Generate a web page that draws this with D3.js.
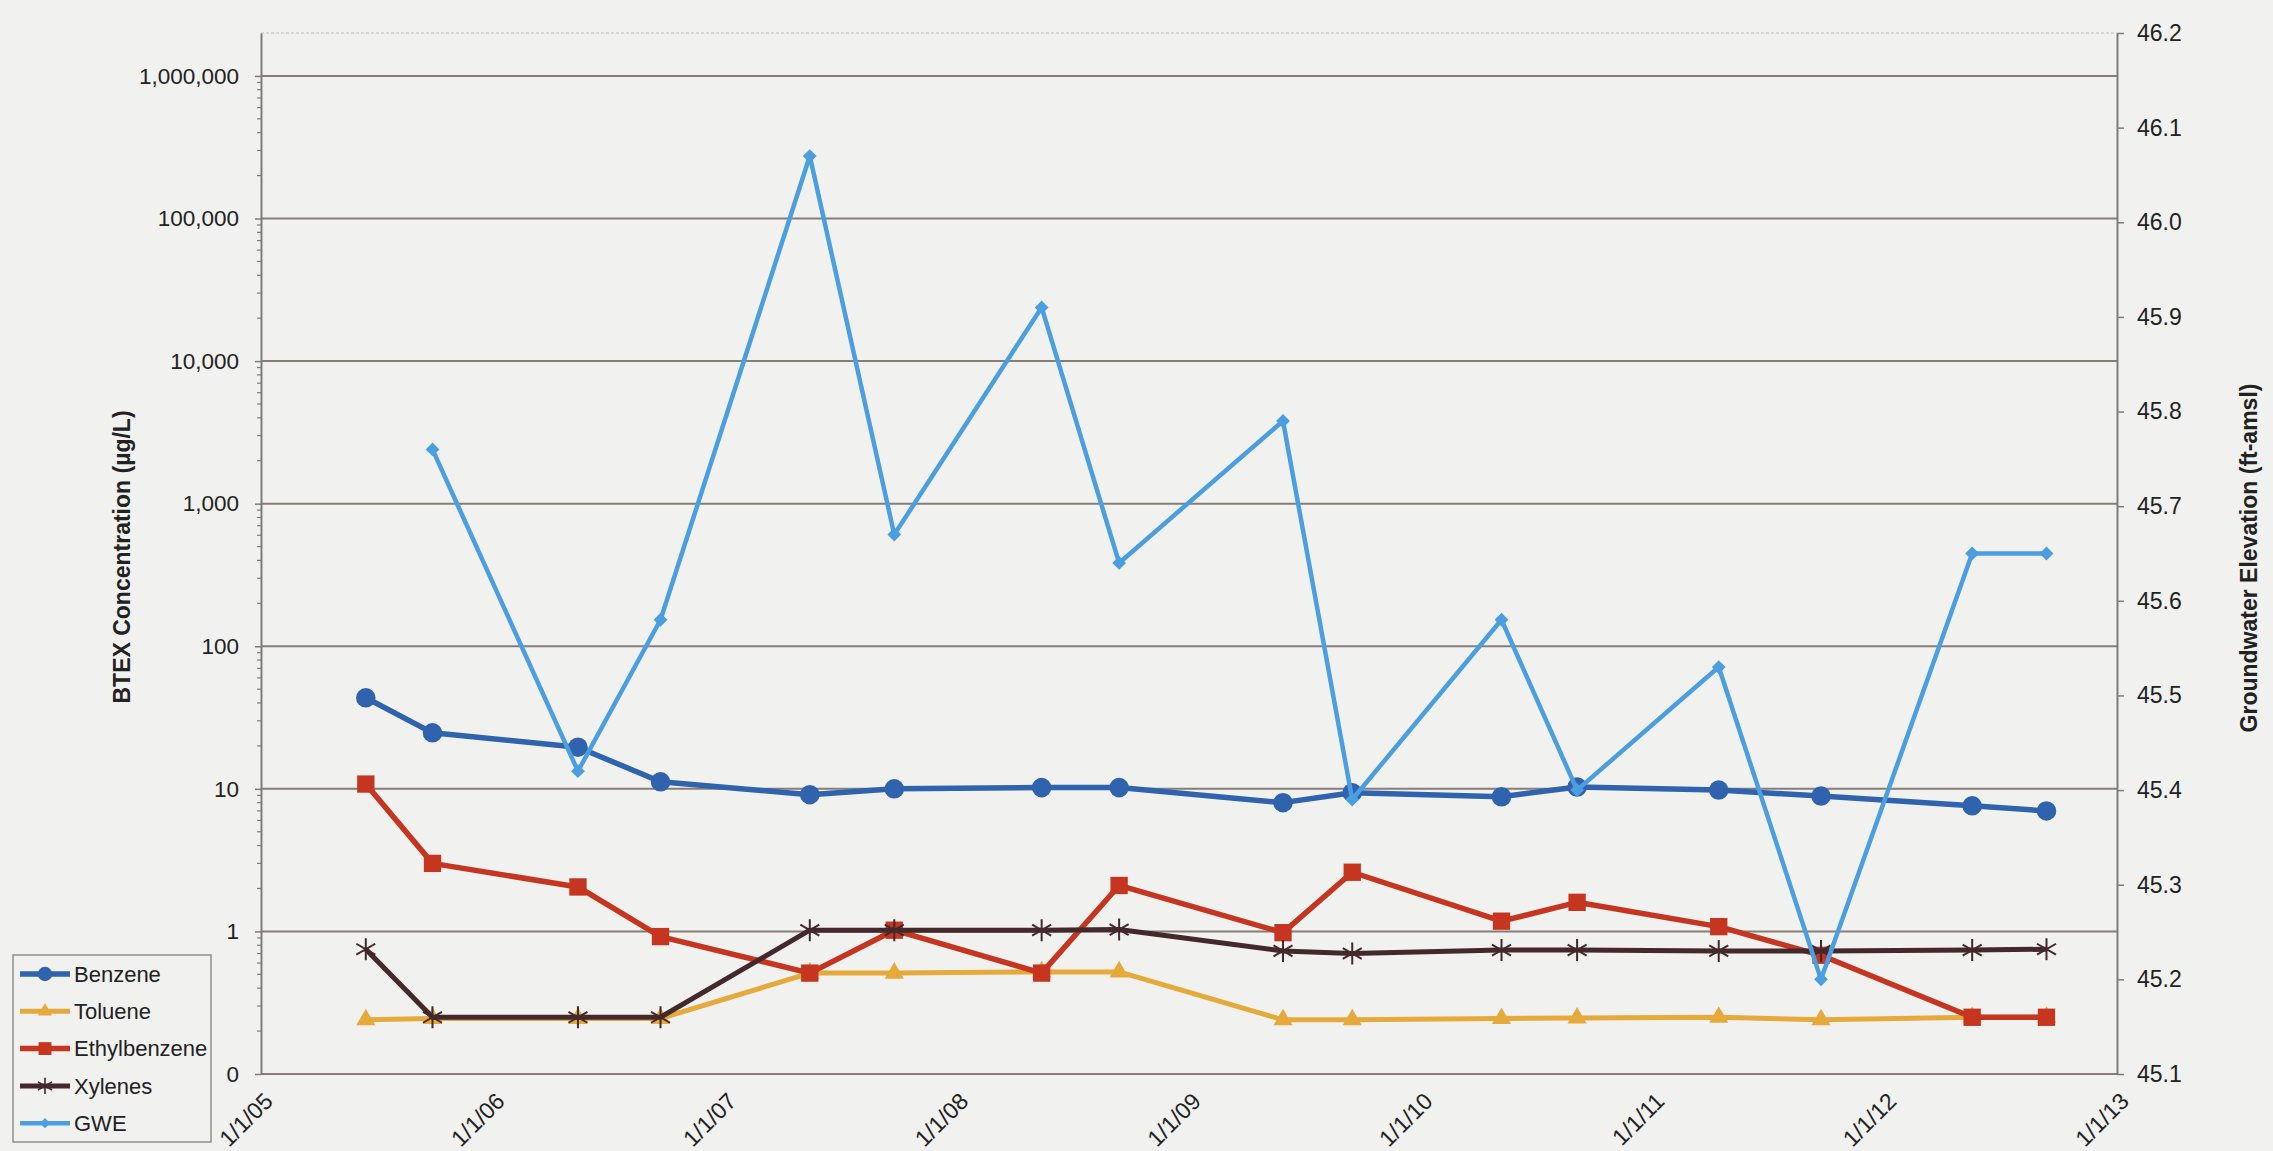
<!DOCTYPE html>
<html>
<head>
<meta charset="utf-8">
<script src="https://cdn.jsdelivr.net/npm/d3@7"></script>
<style>
  html, body { margin: 0; padding: 0; background: #f1f1f0; }
  svg { display: block; }
  text { font-family: "Liberation Sans", Arial, sans-serif; fill: #222; }
</style>
</head>
<body>
<div id="chart"></div>
<script>
// Sampling dates (one per monitoring event)
const sampleDates = [
  '2005-06-15', '2005-09-28', '2006-05-15', '2006-09-22',
  '2007-05-15', '2007-09-25', '2008-05-14', '2008-09-13',
  '2009-05-29', '2009-09-15', '2010-05-08', '2010-09-04',
  '2011-04-15', '2011-09-23', '2012-05-18', '2012-09-12'
];

// BTEX concentrations (ug/L), left log axis
const benzene      = [43.5, 24.7, 19.6, 11.2, 9.1, 10.0, 10.2, 10.2, 8.0, 9.4, 8.8, 10.3, 9.8, 8.9, 7.6, 7.0];
const toluene      = [0.24, 0.245, 0.245, 0.245, 0.51, 0.51, 0.52, 0.52, 0.24, 0.24, 0.245, 0.247, 0.25, 0.24, 0.25, 0.25];
const ethylbenzene = [10.8, 3.0, 2.05, 0.92, 0.51, 1.02, 0.51, 2.1, 0.98, 2.6, 1.18, 1.6, 1.08, 0.68, 0.25, 0.25];
const xylenes      = [0.75, 0.25, 0.25, 0.25, 1.02, 1.02, 1.02, 1.03, 0.73, 0.70, 0.74, 0.74, 0.73, 0.73, 0.74, 0.75];

// Groundwater elevation (ft-amsl), right axis; no reading at first event
const gwe = [null, 45.76, 45.42, 45.58, 46.07, 45.67, 45.91, 45.64, 45.79, 45.39, 45.58, 45.40, 45.53, 45.20, 45.65, 45.65];

// Axis ticks
const xTickDates  = ['2005-01-01', '2006-01-01', '2007-01-01', '2008-01-01', '2009-01-01', '2010-01-01', '2011-01-01', '2012-01-01', '2013-01-01'];
const xTickLabels = ['1/1/05', '1/1/06', '1/1/07', '1/1/08', '1/1/09', '1/1/10', '1/1/11', '1/1/12', '1/1/13'];
const leftTicks   = [0.1, 1, 10, 100, 1000, 10000, 100000, 1000000];
const rightTicks  = [45.1, 45.2, 45.3, 45.4, 45.5, 45.6, 45.7, 45.8, 45.9, 46.0, 46.1, 46.2];

const seriesNames = ['Benzene', 'Toluene', 'Ethylbenzene', 'Xylenes', 'GWE'];

const width = 2273, height = 1151;
const plot = { left: 261, right: 2117, top: 33, bottom: 1074 };

const parse = d3.timeParse('%Y-%m-%d');

// Scales
const x = d3.scaleTime()
  .domain([parse('2005-01-01'), parse('2013-01-01')])
  .range([plot.left, plot.right]);

const yLeft = d3.scaleLog()
  .domain([0.1, 2000000])
  .range([plot.bottom, plot.top]);

const yRight = d3.scaleLinear()
  .domain([45.1, 46.2])
  .range([plot.bottom, plot.top]);

// Series definitions
const series = [
  { name: seriesNames[0], values: benzene,      color: '#2f63ad', width: 5.5, symbol: d3.symbolCircle,   size: 300, axis: yLeft },
  { name: seriesNames[1], values: toluene,      color: '#e6a93c', width: 5,   symbol: d3.symbolTriangle, size: 160, axis: yLeft },
  { name: seriesNames[2], values: ethylbenzene, color: '#c5351f', width: 5.5, symbol: d3.symbolSquare,   size: 300, axis: yLeft },
  { name: seriesNames[3], values: xylenes,      color: '#43292b', width: 5,   symbol: d3.symbolAsterisk, size: 340, axis: yLeft, stroke: true },
  { name: seriesNames[4], values: gwe,          color: '#4b9fe1', width: 4.5, symbol: d3.symbolSquare,   size: 95,  axis: yRight, rotate: 45 }
];

const svg = d3.select('#chart')
  .append('svg')
  .attr('width', width)
  .attr('height', height);

svg.append('rect')
  .attr('width', width)
  .attr('height', height)
  .attr('fill', '#f1f1f0');

// Faint plot area top border
svg.append('line')
  .attr('x1', plot.left).attr('x2', plot.right)
  .attr('y1', plot.top).attr('y2', plot.top)
  .attr('stroke', '#b9b9b9')
  .attr('stroke-width', 1.2)
  .attr('stroke-dasharray', '3,2');

// Horizontal gridlines at the log decades
svg.append('g')
  .attr('class', 'grid')
  .selectAll('line')
  .data(leftTicks)
  .join('line')
  .attr('x1', plot.left)
  .attr('x2', plot.right)
  .attr('y1', d => yLeft(d))
  .attr('y2', d => yLeft(d))
  .attr('stroke', '#877d77')
  .attr('stroke-width', 2);

// Left axis
const leftAxis = svg.append('g')
  .attr('transform', `translate(${plot.left},0)`)
  .call(d3.axisLeft(yLeft)
    .tickValues(leftTicks)
    .tickFormat(d3.format(',.0f'))
    .tickSize(6)
    .tickSizeOuter(0)
    .tickPadding(16));

leftAxis.select('.domain').attr('stroke', '#7c7c7c').attr('stroke-width', 2);
leftAxis.selectAll('.tick line').attr('stroke', '#7c7c7c').attr('stroke-width', 1.5);
leftAxis.selectAll('.tick text').style('font-size', '22.5px').attr('fill', '#222');

// Minor log ticks
const minorTicks = [];
for (let k = -1; k <= 6; k++) {
  for (let m = 2; m <= 9; m++) {
    const v = m * Math.pow(10, k);
    if (v < 2000000) minorTicks.push(v);
  }
}
svg.append('g')
  .selectAll('line')
  .data(minorTicks)
  .join('line')
  .attr('x1', plot.left - 4)
  .attr('x2', plot.left)
  .attr('y1', d => yLeft(d))
  .attr('y2', d => yLeft(d))
  .attr('stroke', '#7c7c7c')
  .attr('stroke-width', 1.2);

// Right axis
const rightAxis = svg.append('g')
  .attr('transform', `translate(${plot.right},0)`)
  .call(d3.axisRight(yRight)
    .tickValues(rightTicks)
    .tickFormat(d3.format('.1f'))
    .tickSize(7)
    .tickSizeOuter(0)
    .tickPadding(13));

rightAxis.select('.domain').attr('stroke', '#7c7c7c').attr('stroke-width', 2);
rightAxis.selectAll('.tick line').attr('stroke', '#7c7c7c').attr('stroke-width', 1.5);
rightAxis.selectAll('.tick text').style('font-size', '23px').attr('fill', '#222');

// Bottom (date) axis labels, rotated
const bottomAxis = svg.append('g')
  .attr('transform', `translate(0,${plot.bottom})`)
  .call(d3.axisBottom(x)
    .tickValues(xTickDates.map(parse))
    .tickFormat((d, i) => xTickLabels[i])
    .tickSize(0));

bottomAxis.select('.domain').remove();
bottomAxis.selectAll('.tick text')
  .style('font-size', '23px')
  .attr('fill', '#222')
  .attr('text-anchor', 'end')
  .attr('x', 0)
  .attr('y', 0)
  .attr('dy', '0.35em')
  .attr('transform', 'translate(7,23) rotate(-45)');

// Axis titles
svg.append('text')
  .attr('transform', `translate(122,557) rotate(-90)`)
  .attr('text-anchor', 'middle')
  .attr('dy', '0.35em')
  .style('font-size', '23px')
  .style('font-weight', 'bold')
  .text('BTEX Concentration (µg/L)');

svg.append('text')
  .attr('transform', `translate(2249,558) rotate(-90)`)
  .attr('text-anchor', 'middle')
  .attr('dy', '0.35em')
  .style('font-size', '23px')
  .style('font-weight', 'bold')
  .text('Groundwater Elevation (ft-amsl)');

// Lines and markers
const linesGroup = svg.append('g').attr('class', 'lines');

series.forEach(s => {
  const pts = sampleDates.map((d, i) => ({ date: parse(d), v: s.values[i] }));

  const line = d3.line()
    .defined(d => d.v != null)
    .x(d => x(d.date))
    .y(d => s.axis(d.v));

  const g = linesGroup.append('g').attr('class', 'series');

  g.append('path')
    .datum(pts)
    .attr('d', line)
    .attr('fill', 'none')
    .attr('stroke', s.color)
    .attr('stroke-width', s.width)
    .attr('stroke-linejoin', 'round');

  const sym = d3.symbol().type(s.symbol).size(s.size);

  g.selectAll('path.marker')
    .data(pts.filter(d => d.v != null))
    .join('path')
    .attr('class', 'marker')
    .attr('d', sym)
    .attr('transform', d => `translate(${x(d.date)},${s.axis(d.v)}) rotate(${s.rotate || 0})`)
    .attr('fill', s.stroke ? 'none' : s.color)
    .attr('stroke', s.stroke ? s.color : 'none')
    .attr('stroke-width', s.stroke ? 2 : 0);
});

// Legend
const legend = svg.append('g').attr('class', 'legend');

legend.append('rect')
  .attr('x', 13)
  .attr('y', 955)
  .attr('width', 198)
  .attr('height', 187)
  .attr('fill', 'none')
  .attr('stroke', '#8f8f8f')
  .attr('stroke-width', 1.5);

const legendItems = legend.selectAll('.legend-item')
  .data(series)
  .join('g')
  .attr('class', 'legend-item')
  .attr('transform', (d, i) => `translate(0,${974 + i * 37.3})`);

legendItems.append('line')
  .attr('x1', 20)
  .attr('x2', 70)
  .attr('stroke', d => d.color)
  .attr('stroke-width', d => d.width);

legendItems.append('path')
  .attr('d', d => d3.symbol().type(d.symbol).size(d.size * 0.55)())
  .attr('transform', d => `translate(45,0) rotate(${d.rotate || 0})`)
  .attr('fill', d => d.stroke ? 'none' : d.color)
  .attr('stroke', d => d.stroke ? d.color : 'none')
  .attr('stroke-width', d => d.stroke ? 1.6 : 0);

legendItems.append('text')
  .attr('x', 74)
  .attr('dy', '0.35em')
  .style('font-size', '22px')
  .text(d => d.name);
</script>
</body>
</html>
